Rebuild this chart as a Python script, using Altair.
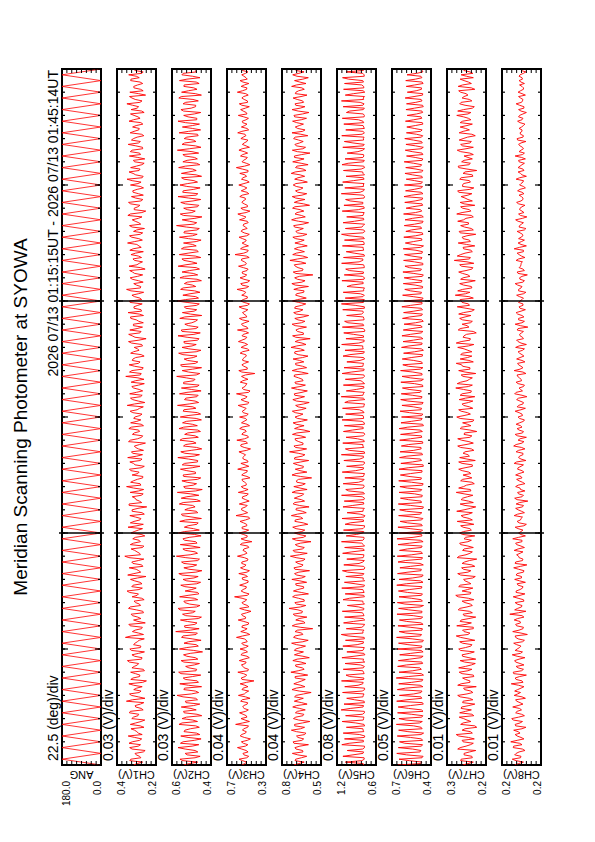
import altair as alt
import pandas as pd

FONT = "Liberation Sans"
W, H = 39, 696
T_START, T_END = 75, 105      # minutes after 00 UT: 01:15 .. 01:45
ANG_DT = 0.25                 # one scan leg = 15 s
CH_DT = 0.125                 # channel samples (a) every 7.5 s, (b) half-way between

time_tick_values = [75, 85, 95, 105]
time_tick_labels = ["0115", "0125", "0135", "0145"]
title_text = "Meridian Scanning Photometer at SYOWA"
date_text = "2026 07/13 01:15:15UT - 2026 07/13 01:45:14UT"

names = ["ANG", "CH1(V)", "CH2(V)", "CH3(V)", "CH4(V)", "CH5(V)", "CH6(V)", "CH7(V)", "CH8(V)"]
per_div = ["22.5 (deg)/div", "0.03 (V)/div", "0.03 (V)/div", "0.04 (V)/div", "0.04 (V)/div",
           "0.08 (V)/div", "0.05 (V)/div", "0.01 (V)/div", "0.01 (V)/div"]
dom_lo = [0, 0.18, 0.38, 0.34, 0.48, 0.58, 0.36, 0.21, 0.16]
dom_hi = [180, 0.42, 0.62, 0.66, 0.80, 1.22, 0.76, 0.29, 0.24]
lab_lo = ["0.0", "0.2", "0.4", "0.3", "0.5", "0.6", "0.4", "0.2", "0.2"]
lab_hi = ["180.0", "0.4", "0.6", "0.7", "0.8", "1.2", "0.7", "0.3", "0.2"]

ang_deg = [0,180,0,180,0,180,0,180,0,180,0,180,0,180,0,180,0,180,0,180,
           0,180,0,180,0,180,0,180,0,180,0,180,0,180,0,180,0,180,0,180,
           0,180,0,180,0,180,0,180,0,180,0,180,0,180,0,180,0,180,0,180,
           0,180,0,180,0,180,0,180,0,180,0,180,0,180,0,180,0,180,0,180,
           0,180,0,180,0,180,0,180,0,180,0,180,0,180,0,180,0,180,0,180,
           0,180,0,180,0,180,0,180,0,180,0,180,0,180,0,180,0,180,0,180,0]

ch1_mv = [318,262,335,281,309,247,342,275,326,268,351,289,312,254,338,272,329,291,344,259,
          305,276,362,248,331,283,317,265,347,239,322,279,336,258,314,287,356,266,328,251,
          341,273,309,284,368,257,325,269,339,246,318,292,333,261,349,275,306,253,327,288,
          358,264,321,279,337,242,316,286,345,268,329,255,372,281,311,263,338,276,323,249,
          334,289,352,258,315,273,341,266,327,237,346,282,308,271,339,256,361,278,319,262,
          327,284,343,252,318,276,354,263,331,288,313,245,338,269,325,281,347,257,336,273,
          311,266,339,281,357,249,324,275,342,262,318,287,333,254,366,271,328,259,345,278,
          322,253,336,284,314,268,349,241,327,279,341,263,319,286,335,257,352,272,316,265,
          343,279,328,256,361,274,317,288,339,262,325,247,346,283,312,269,334,258,321,285,
          355,264,329,277,318,251,343,286,326,266,338,243,314,279,349,261,331,288,323,257,
          337,272,358,259,321,284,336,267,312,249,344,281,327,263,351,276,319,255,339,286,
          324,261,346,278,315,253,333,287,359,266,328,244,341,275,317,262,336,283,348,259]
ch1b_mv = [296,341,273,302,258,327,289,346,281,311,265,298,334,277,305,249,319,286,338,271,
           308,255,324,289,343,272,299,317,262,335,281,306,251,328,294,344,269,312,287,331,
           276,318,295,252,333,287,309,264,347,291,273,325,257,301,339,282,315,268,296,343,
           285,329,266,311,293,354,274,302,261,322,289,347,276,297,333,255,318,284,307,271,
           314,263,297,338,279,306,252,327,291,345,268,303,326,259,287,318,273,336,295,261,
           292,335,271,309,341,266,298,324,257,306,281,349,293,262,314,287,332,271,298,317,
           279,323,296,258,312,289,337,265,301,284,329,252,307,291,276,343,264,312,288,326,
           305,271,318,294,263,331,285,309,348,272,296,319,258,301,337,283,269,315,292,339,
           268,312,289,334,276,301,259,326,293,311,342,275,297,263,322,288,306,341,271,298,
           311,286,343,262,299,327,274,308,289,353,267,314,291,336,272,305,258,321,296,277,
           291,327,265,305,346,278,301,253,319,292,275,338,262,304,287,331,296,269,315,283,
           302,273,319,291,337,268,296,324,279,308,343,287,259,316,293,278,334,301,267,312]
ch2_mv = [548,462,571,447,539,478,583,455,552,441,566,469,541,452,577,463,558,437,545,471,
          563,449,538,474,589,456,547,438,572,465,551,443,579,468,536,451,564,476,549,432,
          574,458,546,441,561,472,597,453,543,466,568,439,555,477,582,448,541,462,573,455,
          539,471,566,444,552,459,578,436,547,468,561,451,593,463,538,447,569,474,553,441,
          581,452,544,467,572,439,556,461,541,478,575,446,563,455,587,434,548,469,559,443,
          552,476,568,448,543,462,584,451,566,437,549,472,571,458,542,445,577,464,555,439,
          569,444,551,473,586,456,543,467,574,441,562,453,548,478,591,449,557,438,567,461,
          545,466,579,442,558,471,547,454,583,446,563,459,541,475,572,437,556,468,544,452,
          588,457,553,448,567,474,544,439,571,462,558,451,582,466,546,443,575,458,562,471,
          549,441,574,465,543,452,592,468,557,436,569,477,548,455,566,443,583,461,551,447,
          571,463,546,438,562,471,579,449,553,464,541,456,587,442,558,473,545,459,576,444,
          556,451,583,467,548,443,565,475,552,458,578,439,561,466,547,453,574,448,559,469]
ch2b_mv = [512,553,478,527,461,539,496,568,483,521,449,546,507,474,558,492,531,466,549,503,
           487,534,463,552,501,476,543,519,457,538,494,565,472,516,483,547,461,529,508,486,
           529,472,518,496,553,464,507,541,479,525,458,536,494,571,469,512,547,483,521,462,
           498,541,467,529,485,558,473,516,491,547,462,535,508,478,553,497,466,542,514,481,
           543,488,521,459,536,497,562,471,518,493,551,468,529,505,474,541,489,527,463,548,
           475,529,496,557,463,518,484,541,502,469,537,491,556,478,523,461,548,495,532,471,
           521,463,547,492,514,478,535,459,528,501,466,549,487,532,471,518,493,561,476,524,
           489,553,471,516,497,544,462,527,485,558,473,519,498,463,541,507,484,536,469,527,
           536,474,509,481,552,495,527,466,543,489,512,471,534,498,559,477,521,468,545,493,
           471,518,493,547,466,531,485,512,479,549,498,526,463,538,491,517,472,554,486,529,
           523,485,561,472,516,493,538,469,527,481,553,497,514,476,542,489,529,463,518,495,
           494,537,468,521,483,549,502,474,536,491,563,477,519,486,545,471,528,493,551,479]
ch3_mv = [538,497,561,482,529,503,574,489,542,468,551,508,533,491,589,476,545,502,557,485,
          531,494,548,471,566,505,537,488,552,439,543,498,571,484,528,509,559,477,546,492,
          553,486,539,501,582,473,547,495,534,482,568,507,541,463,556,491,537,498,598,479,
          544,503,556,487,532,492,563,476,549,505,538,488,574,497,529,481,551,456,545,493,
          561,482,537,499,553,474,586,491,541,506,559,478,535,495,567,487,543,501,533,472,
          539,497,572,481,546,493,531,508,562,467,548,492,579,484,538,502,556,475,541,498,
          557,486,534,503,568,479,545,496,582,471,536,505,551,488,541,432,563,494,538,483,
          531,501,552,478,544,491,566,507,537,483,574,496,542,479,558,503,533,489,561,476,
          548,493,539,506,577,482,547,474,553,498,536,487,565,501,542,478,594,491,549,484,
          536,502,561,477,543,495,528,486,557,505,571,472,546,493,538,508,555,481,543,497,
          563,478,541,499,555,487,583,473,537,503,549,491,562,476,534,497,546,505,572,482,
          542,496,535,484,567,502,548,477,559,493,538,486,575,499,544,481,553,504,539,488]
ch3b_mv = [514,532,498,521,487,539,509,526,493,518,541,502,523,484,531,512,497,528,506,519,
           523,491,535,508,517,482,528,513,499,536,511,524,488,519,542,503,521,495,533,509,
           507,529,494,518,531,497,515,538,486,522,509,533,499,517,481,526,512,536,494,521,
           528,502,519,487,536,511,496,523,514,539,492,518,527,505,521,489,533,512,498,526,
           511,535,497,524,508,482,529,516,539,494,521,507,532,486,518,527,503,514,537,496,
           524,493,531,512,487,526,518,535,498,519,544,505,516,491,529,511,537,495,521,508,
           499,527,514,536,492,519,507,528,483,524,513,497,531,518,509,538,494,522,516,531,
           518,506,533,493,521,514,538,497,526,509,488,529,515,534,498,521,507,536,492,519,
           527,494,516,529,503,537,489,521,512,533,496,525,508,517,539,501,523,486,531,514,
           509,532,498,519,536,507,523,494,517,541,503,526,492,519,528,511,535,497,516,524,
           521,497,529,513,488,534,516,502,525,493,531,518,536,504,519,489,527,512,538,496,
           514,531,503,522,496,527,509,538,491,519,524,506,533,497,517,529,494,521,508,535]
ch4_mv = [702,618,688,597,715,631,694,583,709,622,681,604,723,615,697,572,706,628,690,609,
          712,594,699,625,684,561,718,612,703,637,692,589,727,618,686,603,711,576,698,624,
          689,607,721,585,705,629,693,548,716,611,687,596,708,632,742,605,695,619,713,583,
          706,622,684,598,719,609,697,574,702,627,688,611,731,593,709,617,691,562,715,604,
          697,613,712,588,694,629,723,601,686,578,708,615,699,633,717,594,703,609,682,557,
          718,596,691,624,707,581,695,612,738,598,702,627,689,606,714,571,697,619,709,592,
          693,628,715,602,688,577,711,615,699,592,722,608,694,633,701,585,716,598,687,621,
          709,587,697,617,726,603,692,569,713,625,686,599,717,612,695,581,704,628,691,605,
          714,601,688,622,703,583,719,611,696,547,708,627,691,604,735,589,712,616,698,593,
          694,618,711,596,687,625,704,582,721,609,693,621,713,574,699,612,716,597,689,628,
          708,592,696,614,724,603,689,586,712,619,698,571,715,607,694,626,705,588,718,611,
          691,624,713,599,702,579,717,612,693,631,709,595,686,617,721,603,697,584,712,619]
ch4b_mv = [662,693,641,671,628,685,653,702,637,669,614,681,648,696,632,663,687,621,674,655,
           679,638,664,697,623,658,684,645,671,609,692,651,667,633,689,644,676,628,663,698,
           647,681,629,662,694,638,673,651,687,624,659,693,636,669,648,682,617,665,691,642,
           671,623,688,653,637,679,662,694,641,668,627,684,656,698,633,671,649,683,625,662,
           638,684,659,626,691,647,674,633,682,658,697,641,669,622,686,652,635,678,664,649,
           684,652,627,673,646,698,634,667,651,689,628,662,693,645,678,619,667,684,641,673,
           657,691,643,668,622,681,659,695,636,672,653,688,627,664,697,642,675,631,689,656,
           631,667,694,648,679,636,662,687,624,673,658,692,641,669,627,684,652,696,638,663,
           672,645,681,619,663,692,637,674,657,686,632,668,699,646,671,629,683,654,667,641,
           649,688,632,673,656,697,628,664,682,641,677,652,694,623,668,687,636,671,648,683,
           686,634,669,651,692,627,678,643,661,697,638,674,629,683,656,664,692,645,631,672,
           658,679,642,696,631,668,651,687,623,675,644,691,663,637,681,654,629,677,662,688]
ch5_mv = [781,1084,772,1123,795,1052,768,1141,786,1097,763,1118,791,1066,777,1135,784,1079,769,1152,
          792,1105,775,1061,788,1128,766,1093,797,1146,779,1072,785,1117,771,1088,794,1139,762,1058,
          783,1124,789,1081,774,1149,796,1067,781,1112,765,1095,787,1133,778,1049,793,1121,770,1086,
          786,1142,768,1098,791,1075,779,1131,764,1108,795,1059,782,1127,773,1094,788,1146,776,1069,
          797,1113,771,1087,785,1138,763,1054,792,1122,780,1101,769,1145,787,1076,775,1119,794,1091,
          778,1134,790,1063,767,1107,784,1148,773,1082,796,1125,781,1071,765,1114,789,1099,772,1137,
          785,1078,793,1129,776,1092,764,1151,788,1067,779,1115,795,1083,770,1136,782,1104,791,1058,
          767,1121,784,1089,798,1143,775,1073,786,1109,763,1132,792,1095,779,1062,787,1126,771,1147,
          794,1085,772,1118,783,1056,790,1139,768,1101,785,1077,774,1144,796,1113,778,1068,789,1131,
          775,1097,788,1145,763,1082,791,1120,780,1061,786,1134,772,1106,795,1079,768,1149,784,1092,
          789,1127,776,1071,793,1114,767,1138,785,1088,779,1053,796,1125,773,1099,787,1142,770,1076,
          782,1108,795,1133,771,1065,788,1119,776,1147,791,1084,764,1112,783,1096,797,1129,775,1072]
ch5b_mv = [791,812,776,958,783,798,769,1021,788,773,847,781,795,766,912,789,778,803,772,1004,
           785,769,932,794,777,806,768,874,791,783,1012,774,797,788,829,765,783,941,779,796,
           772,889,786,771,1038,793,778,812,767,951,789,776,801,784,862,769,795,1015,781,774,
           796,781,923,767,789,798,1044,776,783,858,771,792,779,976,786,768,813,795,777,899,
           781,794,768,1003,787,776,839,792,771,962,785,779,806,769,1027,793,782,867,775,788,
           769,913,783,797,774,846,788,766,1019,781,795,772,884,789,777,968,792,771,807,784,
           794,776,853,782,769,1031,788,795,772,903,781,767,826,793,779,987,774,796,785,843,
           783,1008,771,789,797,863,775,784,947,768,792,781,1042,776,788,817,795,771,921,786,
           772,795,836,781,769,978,793,777,804,789,1016,772,785,857,796,768,939,783,791,775,
           788,771,1024,796,782,811,767,934,785,793,774,869,781,797,1005,776,789,842,771,784,
           776,952,787,769,798,823,781,1037,772,795,786,877,768,791,958,783,776,809,795,771,
           793,781,868,775,789,1012,771,796,839,783,768,947,792,779,814,786,1028,773,797,782]
ch6_mv = [702,452,688,441,711,463,695,447,683,458,706,436,692,461,715,449,689,444,703,457,
          697,439,712,455,684,462,705,443,691,451,716,437,688,459,702,446,694,464,681,441,
          708,453,693,438,713,457,686,449,699,462,684,445,709,452,692,437,705,460,688,448,
          694,456,711,442,687,451,703,463,679,439,698,454,706,447,683,458,697,441,709,452,
          685,447,699,459,676,443,692,454,681,438,695,462,673,449,688,455,679,441,691,458,
          674,452,688,439,669,457,682,446,677,461,664,443,681,455,672,448,686,437,668,459,
          662,444,677,456,658,441,671,452,665,459,653,447,669,438,657,454,672,443,649,457,
          655,449,641,438,662,455,647,443,658,460,644,451,636,439,652,457,641,446,659,452,
          638,441,651,457,629,446,644,452,635,439,648,458,627,444,641,453,632,447,645,437,
          623,452,639,443,618,457,634,448,626,439,641,455,615,446,629,451,637,442,621,458,
          632,447,614,453,627,441,619,456,635,444,611,452,624,439,617,458,629,445,612,451,
          608,443,622,455,604,446,617,439,611,452,625,447,603,458,614,441,619,453,606,444]
ch6b_mv = [467,583,452,611,473,549,458,628,446,571,463,597,451,538,478,616,455,562,442,589,
           571,448,606,463,537,452,622,471,558,444,593,459,547,476,612,453,579,441,568,462,
           459,597,447,553,468,618,452,574,441,609,463,542,455,588,472,627,449,563,458,601,
           582,454,613,466,548,441,596,459,571,473,624,448,557,462,603,451,579,469,544,458,
           461,574,449,602,457,539,472,611,444,568,458,593,453,527,466,604,447,559,463,586,
           569,452,594,441,552,468,607,455,536,463,589,448,571,459,543,472,598,446,562,451,
           455,581,463,538,449,597,458,552,471,584,443,529,462,573,451,546,467,592,448,537,
           563,447,528,459,586,451,541,466,572,443,554,462,519,455,578,448,535,461,569,452,
           451,542,463,571,447,523,458,561,449,536,467,582,443,531,459,556,452,514,466,548,
           539,458,517,449,562,463,528,441,551,457,519,468,547,452,523,445,558,461,532,447,
           463,527,448,549,457,514,466,538,451,522,443,553,462,518,449,541,458,509,467,532,
           521,449,537,462,508,453,529,447,516,461,534,445,512,458,527,451,519,464,506,448]
ch7_mv = [258,236,261,239,255,231,263,242,257,234,266,238,259,229,262,241,256,235,264,240,
          260,233,257,244,268,237,254,230,261,243,258,236,265,239,252,232,263,245,259,234,
          266,241,258,233,262,247,255,236,270,240,261,231,257,244,264,238,253,235,267,242,
          259,237,263,246,256,232,268,241,260,239,254,229,265,243,258,236,262,247,255,233,
          264,240,257,235,269,244,261,238,255,231,263,246,258,237,271,242,256,234,262,239,
          257,245,266,238,259,232,264,247,253,240,268,236,260,243,255,229,263,241,258,235,
          270,242,261,237,256,246,265,233,259,240,272,238,262,244,257,231,266,243,260,236,
          263,239,258,247,268,235,261,242,255,230,267,245,259,238,264,241,256,234,269,246,
          261,236,273,243,258,240,264,232,257,247,266,239,260,235,275,242,262,238,256,233,
          267,244,259,231,265,240,262,246,256,236,270,241,258,233,263,247,261,239,268,235,
          258,242,264,237,257,229,266,245,260,238,255,243,269,236,262,240,257,232,265,244,
          263,238,258,246,270,241,256,234,264,239,259,247,262,233,267,240,255,236,261,243]
ch7b_mv = [247,262,238,255,244,268,251,236,259,246,271,242,253,233,257,249,265,239,252,261,
           245,258,237,263,249,241,256,268,243,252,235,259,247,266,240,254,231,258,244,262,
           252,239,264,247,271,243,258,236,251,263,245,255,238,267,249,242,259,246,272,241,
           248,266,241,253,237,262,247,256,233,259,244,269,251,238,255,247,264,240,252,258,
           256,243,262,249,238,257,246,270,242,253,236,261,248,255,241,266,250,239,258,247,
           241,259,253,238,266,249,244,257,235,262,251,245,268,239,254,243,260,248,237,263,
           255,248,266,244,259,237,252,263,241,256,246,269,249,238,261,253,243,258,271,245,
           248,262,239,255,246,271,243,257,250,236,263,249,242,258,253,266,239,251,244,259,
           263,245,252,268,239,256,247,262,243,258,251,237,264,249,244,269,253,241,257,250,
           242,257,249,263,236,254,246,268,251,240,259,244,262,255,238,253,247,266,243,258,
           256,244,261,238,253,249,267,242,255,247,236,262,251,258,243,265,248,239,257,252,
           249,263,241,256,247,268,238,253,261,244,255,251,266,240,258,246,263,250,237,256]
ch8_mv = [214,196,219,201,211,193,217,199,222,195,209,203,216,191,213,198,220,194,212,200,
          218,197,210,192,215,202,208,195,221,199,213,190,217,196,211,203,214,193,219,198,
          209,201,216,194,212,188,218,197,210,202,215,195,224,191,208,199,213,196,217,193,
          211,198,207,192,214,200,209,195,216,189,212,197,206,203,215,194,210,199,218,192,
          206,197,213,190,209,201,215,194,207,198,211,187,214,196,208,202,212,193,205,199,
          212,195,208,201,215,191,206,197,211,193,216,199,207,190,213,196,209,202,204,194,
          207,199,213,192,206,196,210,189,214,198,205,194,211,201,208,191,215,197,206,193,
          210,195,204,198,212,190,207,196,203,200,209,187,213,194,206,199,211,192,205,197,
          203,196,210,191,206,199,213,194,204,188,209,197,202,201,211,193,205,196,215,190,
          207,194,201,198,209,191,204,196,212,189,206,199,203,193,210,197,200,195,208,192,
          204,197,211,190,202,195,207,199,205,192,213,194,201,198,206,191,209,196,203,199,
          200,193,208,197,204,190,206,195,211,198,202,192,207,196,199,194,205,199,203,191]
ch8b_mv = [206,211,202,214,205,198,216,204,209,201,213,207,199,212,203,217,206,200,209,204,
           207,203,212,199,208,214,201,206,197,211,204,216,200,207,195,212,205,209,202,213,
           204,210,198,207,213,201,205,196,212,203,208,199,206,214,200,209,195,207,203,211,
           203,197,209,204,200,211,196,206,202,213,198,205,210,197,207,201,212,199,206,202,
           201,207,195,205,202,198,208,200,212,196,204,209,199,206,193,203,207,198,210,201,
           205,199,207,196,210,201,204,197,206,200,211,195,203,208,198,205,199,211,196,204,
           198,205,201,209,197,203,206,199,211,202,196,207,200,204,209,197,203,201,208,199,
           203,199,207,194,205,201,210,198,204,196,207,202,199,206,195,208,201,203,197,206,
           199,204,196,206,201,208,197,203,199,207,194,205,201,198,206,200,209,196,204,201,
           200,206,197,203,194,205,200,207,198,202,195,204,199,206,201,197,205,199,203,196,
           201,196,204,199,207,197,203,194,206,200,198,205,196,203,201,208,197,202,199,205,
           196,203,199,206,197,201,195,204,200,197,206,199,202,196,204,201,198,205,196,201]

channels_a = [ch1_mv, ch2_mv, ch3_mv, ch4_mv, ch5_mv, ch6_mv, ch7_mv, ch8_mv]
channels_b = [ch1b_mv, ch2b_mv, ch3b_mv, ch4b_mv, ch5b_mv, ch6b_mv, ch7b_mv, ch8b_mv]


def series_frame(i):
    if i == 0:
        return pd.DataFrame({"t": [T_START + k * ANG_DT for k in range(len(ang_deg))], "v": ang_deg})
    a, b = channels_a[i - 1], channels_b[i - 1]
    t = [T_START + k * CH_DT for k in range(len(a))] + [T_START + (k + 0.5) * CH_DT for k in range(len(b))]
    v = [x / 1000 for x in a] + [x / 1000 for x in b]
    return pd.DataFrame({"t": t, "v": v}).sort_values("t")


minute_ticks = list(range(T_START, T_END + 1))
five_ticks = [m for m in minute_ticks if m % 5 == 0]
ten_ticks = [85, 95]

label_expr = " : ".join(f"datum.value == {v} ? '{s}'" for v, s in zip(time_tick_values, time_tick_labels)) + " : ''"

one = pd.DataFrame({"a": [0]})


def txt(text, x, y, angle, align, baseline, size):
    return alt.Chart(one).mark_text(text=text, angle=angle, align=align, baseline=baseline,
                                    font=FONT, fontSize=size, color="black").encode(
        x=alt.value(x), y=alt.value(y))


def make_panel(i):
    xs = alt.Scale(domain=[dom_lo[i], dom_hi[i]], reverse=True, nice=False, zero=False)
    ys = alt.Scale(domain=[T_START, T_END], nice=False, zero=False)
    df = series_frame(i)
    layers = []
    layers.append(alt.Chart(df).mark_line(color="#ff0000", strokeWidth=0.8 if i == 0 else 0.9, clip=True).encode(
        x=alt.X("v:Q", scale=xs, axis=None), y=alt.Y("t:Q", scale=ys, axis=None), order="t:Q"))

    if i == len(names) - 1:
        yaxis = alt.Axis(orient="right", values=time_tick_values, labelExpr=label_expr,
                         domain=False, ticks=False, grid=False, labelAngle=270,
                         labelAlign="center", labelBaseline="top", labelPadding=5,
                         labelFont=FONT, labelFontSize=13.5, labelColor="black",
                         labelOverlap=False, labelFlush=False,
                         title="TIME(UT)", titleAngle=270, titleFont=FONT, titleFontSize=17,
                         titleFontWeight="normal", titleColor="black", titleBaseline="top",
                         titlePadding=9)
    else:
        yaxis = None
    mdf = pd.DataFrame({"m": minute_ticks})
    fdf = pd.DataFrame({"m": five_ticks})
    tdf = pd.DataFrame({"m": ten_ticks})
    layers.append(alt.Chart(mdf).mark_rule(color="black", strokeWidth=1.2).encode(
        y=alt.Y("m:Q", scale=ys, axis=yaxis), x=alt.value(0), x2=alt.value(3)))
    layers.append(alt.Chart(mdf).mark_rule(color="black", strokeWidth=1.2).encode(
        y=alt.Y("m:Q", scale=ys, axis=None), x=alt.value(W), x2=alt.value(W - 3)))
    layers.append(alt.Chart(fdf).mark_rule(color="black", strokeWidth=1.2).encode(
        y=alt.Y("m:Q", scale=ys, axis=None), x=alt.value(0), x2=alt.value(6)))
    layers.append(alt.Chart(fdf).mark_rule(color="black", strokeWidth=1.2).encode(
        y=alt.Y("m:Q", scale=ys, axis=None), x=alt.value(W), x2=alt.value(W - 6)))
    layers.append(alt.Chart(tdf).mark_rule(color="black", strokeWidth=1.5).encode(
        y=alt.Y("m:Q", scale=ys, axis=None), x=alt.value(-3), x2=alt.value(W + 3)))

    span = dom_hi[i] - dom_lo[i]
    vdf = pd.DataFrame({"v": [dom_lo[i] + k * span / 8 for k in range(9)]})
    layers.append(alt.Chart(vdf).mark_rule(color="black", strokeWidth=1).encode(
        x=alt.X("v:Q", scale=xs, axis=None), y=alt.value(H), y2=alt.value(H - 4)))
    layers.append(alt.Chart(vdf).mark_rule(color="black", strokeWidth=1).encode(
        x=alt.X("v:Q", scale=xs, axis=None), y=alt.value(0), y2=alt.value(4)))

    hi = pd.DataFrame({"v": [dom_hi[i]], "s": [lab_hi[i]]})
    lo = pd.DataFrame({"v": [dom_lo[i]], "s": [lab_lo[i]]})
    layers.append(alt.Chart(hi).mark_text(angle=270, align="right", baseline="top", font=FONT,
                                          fontSize=10, color="black").encode(
        x=alt.X("v:Q", scale=xs, axis=None), y=alt.value(H + 16), text="s:N"))
    layers.append(alt.Chart(lo).mark_text(angle=270, align="right", baseline="alphabetic", font=FONT,
                                          fontSize=10, color="black").encode(
        x=alt.X("v:Q", scale=xs, axis=None), y=alt.value(H + 16), text="s:N"))
    layers.append(txt(names[i], W / 2, H + 9, 180, "center", "middle", 11))
    layers.append(txt(per_div[i], -4, H - 4, 270, "left", "alphabetic", 14))
    if i == 0:
        layers.append(txt(date_text, -4, 1, 270, "right", "alphabetic", 14))
        layers.append(txt(title_text, -35, H / 2, 270, "center", "alphabetic", 19))
    return alt.layer(*layers).properties(width=W, height=H)


chart = alt.hconcat(*[make_panel(i) for i in range(len(names))], spacing=16, bounds="flush").properties(
    padding={"left": 3, "top": 59, "right": 5, "bottom": 5}
).configure_view(stroke="black", strokeWidth=2)

chart.save("out.html", embed_options={"renderer": "svg", "actions": False})
